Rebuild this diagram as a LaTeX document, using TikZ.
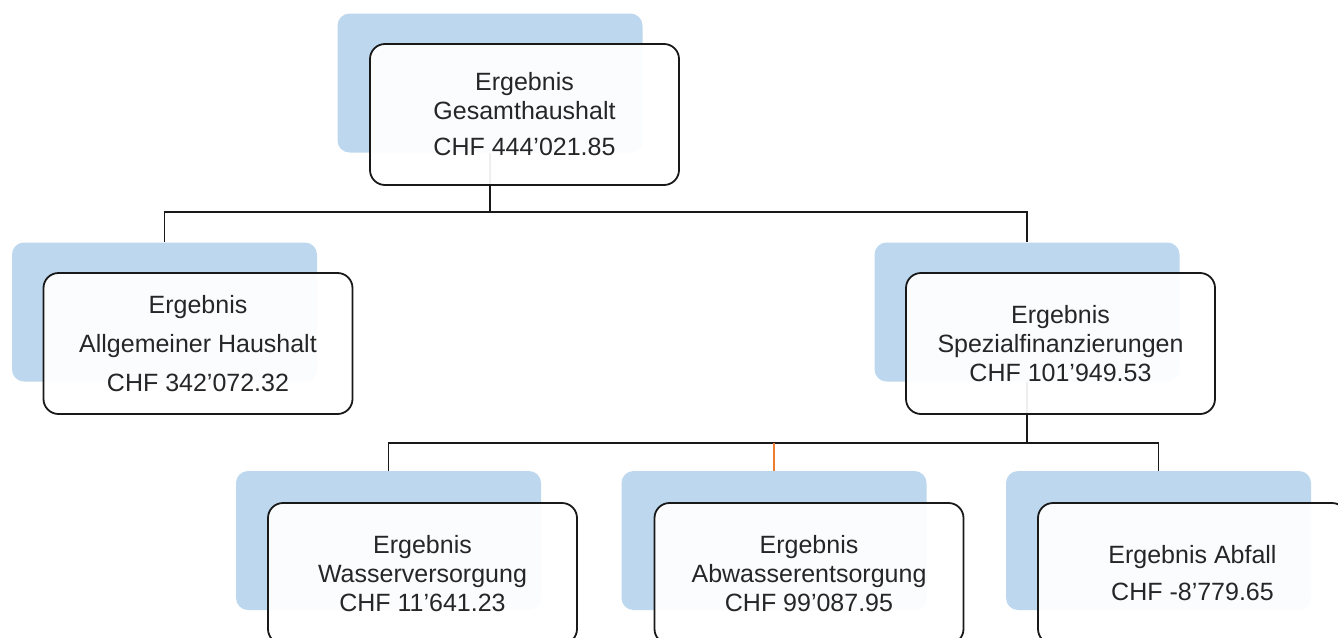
\documentclass[tikz,border=0pt]{standalone}
\usepackage{fontspec}
\setmainfont{Liberation Sans}
\definecolor{shadeblue}{HTML}{BDD7EE}
\definecolor{txt}{HTML}{262626}
\definecolor{lineorange}{HTML}{ED7D31}
\begin{document}
\begin{tikzpicture}[x=1pt,y=-1pt,
  bbox/.style={fill=shadeblue, draw=none, rounded corners=12pt, minimum width=305pt, minimum height=139pt, inner sep=0pt},
  wbox/.style={draw=black!90, line width=1.8pt, rounded corners=15pt, fill=white, fill opacity=0.93, text opacity=1,
    minimum width=309pt, minimum height=141pt, inner sep=0pt, align=center, text=txt,
    font=\fontsize{25}{29}\selectfont},
  conn/.style={draw=black!90, line width=1.8pt},
  oconn/.style={draw=lineorange, line width=1.8pt}]
\useasboundingbox (0,0) rectangle (1338,637);
\clip (0,0) rectangle (1338,637);
% shadow boxes
\node[bbox] (gb) at (490,83) {};
\node[bbox] (ab) at (164.5,312) {};
\node[bbox] (sb) at (1027,312) {};
\node[bbox] (wb) at (388.5,540.5) {};
\node[bbox] (vb) at (774,540.5) {};
\node[bbox] (fb) at (1158.5,540.5) {};
% hubs
\coordinate (hub1) at (490,212);
\coordinate (hub2) at (1027,443);
% connectors
\draw[conn] (gb.south) -- (hub1);
\draw[conn] (ab.north) |- (hub1) -| (sb.north);
\draw[conn] (sb.south) -- (hub2);
\draw[conn] (wb.north) |- (hub2) -| (fb.north);
\draw[oconn] (vb.north) -- (vb.north |- hub2);
% front boxes
\node[wbox] (g) at (524.5,114.5) {Ergebnis\\Gesamthaushalt\\[7pt]CHF 444'021.85};
\node[wbox] (a) at (198,343.5) {Ergebnis\\[10pt]Allgemeiner Haushalt\\[10pt]CHF 342'072.32};
\node[wbox] (s) at (1060.5,343.5) {Ergebnis\\Spezialfinanzierungen\\CHF 101'949.53};
\node[wbox] (w) at (422.5,573.5) {Ergebnis\\Wasserversorgung\\CHF 11'641.23};
\node[wbox] (v) at (809,573.5) {Ergebnis\\Abwasserentsorgung\\CHF 99'087.95};
\node[wbox] (f) at (1192.5,573.5) {Ergebnis Abfall\\[8pt]CHF -8'779.65};
\end{tikzpicture}
\end{document}
